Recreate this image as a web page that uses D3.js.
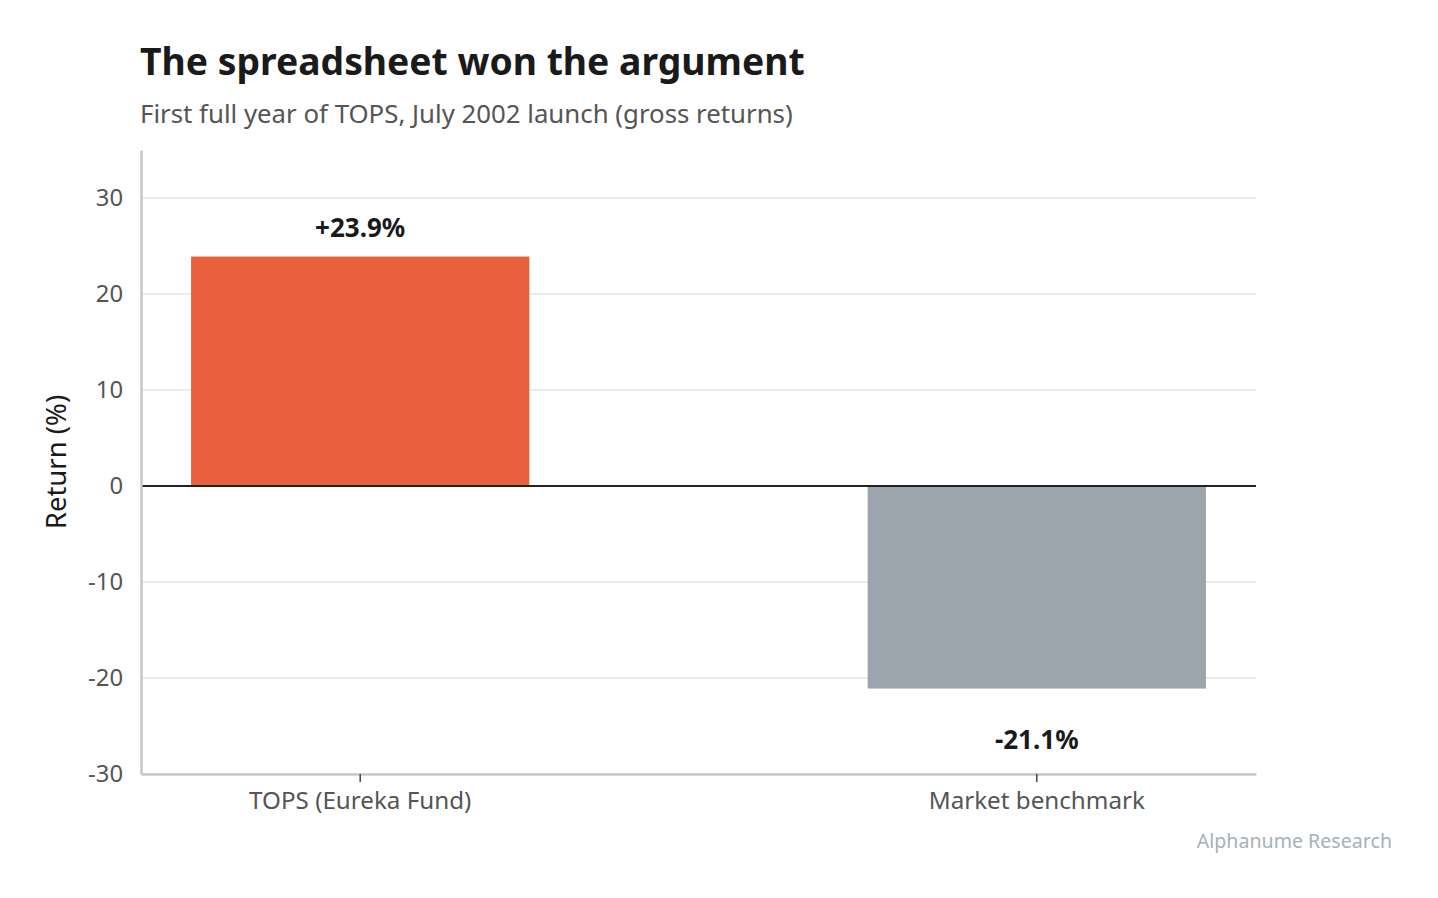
<!DOCTYPE html>
<html>
<head>
<meta charset="utf-8">
<script src="https://cdn.jsdelivr.net/npm/d3@7"></script>
<style>
  body { margin: 0; background: #fff; }
  svg { display: block; font-family: "Noto Sans", sans-serif; }
</style>
</head>
<body>
<div id="chart"></div>
<script>
const categories = ["TOPS (Eureka Fund)", "Market benchmark"];
const returns = [23.9, -21.1];
const valueLabels = ["+23.9%", "-21.1%"];
const yTicks = [-30, -20, -10, 0, 10, 20, 30];
const barColors = ["#e8613c", "#9ca5ad"];

const width = 1438;
const height = 898;
const margin = { top: 150, right: 182, bottom: 124, left: 141 };

const svg = d3
  .select("#chart")
  .append("svg")
  .attr("width", width)
  .attr("height", height);

const x = d3
  .scaleBand()
  .domain(categories)
  .range([margin.left, width - margin.right])
  .paddingInner(0.5)
  .paddingOuter(0.074);

const y = d3
  .scaleLinear()
  .domain([-30, 35])
  .range([height - margin.bottom, margin.top]);

// gridlines
svg
  .append("g")
  .selectAll("line")
  .data(yTicks)
  .join("line")
  .attr("x1", margin.left)
  .attr("x2", width - margin.right)
  .attr("y1", (d) => y(d))
  .attr("y2", (d) => y(d))
  .attr("stroke", "#e3e5e7")
  .attr("stroke-width", 1.5);

// bars
svg
  .append("g")
  .selectAll("rect")
  .data(categories)
  .join("rect")
  .attr("x", (d) => x(d))
  .attr("width", x.bandwidth())
  .attr("y", (d, i) => y(Math.max(0, returns[i])))
  .attr("height", (d, i) => Math.abs(y(returns[i]) - y(0)))
  .attr("fill", (d, i) => barColors[i]);

// zero line
svg
  .append("line")
  .attr("x1", margin.left)
  .attr("x2", width - margin.right)
  .attr("y1", y(0))
  .attr("y2", y(0))
  .attr("stroke", "#222")
  .attr("stroke-width", 2);

// y axis
const yAxis = svg
  .append("g")
  .attr("transform", `translate(${margin.left},0)`)
  .call(
    d3
      .axisLeft(y)
      .tickValues(yTicks)
      .tickFormat((d) => String(d))
      .tickSize(0)
      .tickPadding(18)
  );
yAxis.select(".domain").attr("stroke", "#c3c9cf").attr("stroke-width", 2.5);
yAxis
  .selectAll("text")
  .attr("font-size", 23.8)
  .attr("fill", "#555")
  .attr("font-family", "Noto Sans, sans-serif");

// x axis
const xAxis = svg
  .append("g")
  .attr("transform", `translate(0,${height - margin.bottom})`)
  .call(d3.axisBottom(x).tickSize(8).tickSizeOuter(0).tickPadding(10));
xAxis.select(".domain").attr("stroke", "#c3c9cf").attr("stroke-width", 2.5);
xAxis.selectAll(".tick line").attr("stroke", "#444").attr("stroke-width", 1.5);
xAxis
  .selectAll("text")
  .attr("font-size", 24.2)
  .attr("fill", "#555")
  .attr("font-family", "Noto Sans, sans-serif");

// value labels
svg
  .append("g")
  .selectAll("text")
  .data(categories)
  .join("text")
  .attr("x", (d) => x(d) + x.bandwidth() / 2)
  .attr("y", (d, i) =>
    returns[i] >= 0 ? y(returns[i]) - 20 : y(returns[i]) + 60
  )
  .attr("text-anchor", "middle")
  .attr("font-size", 26)
  .attr("font-weight", "bold")
  .attr("fill", "#1a1a1a")
  .text((d, i) => valueLabels[i]);

// y axis title
svg
  .append("text")
  .attr("transform", `translate(66,${y(2.5)}) rotate(-90)`)
  .attr("text-anchor", "middle")
  .attr("font-size", 27.5)
  .attr("fill", "#1a1a1a")
  .text("Return (%)");

// title and subtitle
svg
  .append("text")
  .attr("x", 140)
  .attr("y", 75)
  .attr("font-size", 37.3)
  .attr("font-weight", "bold")
  .attr("fill", "#1a1a1a")
  .text("The spreadsheet won the argument");

svg
  .append("text")
  .attr("x", 140)
  .attr("y", 123)
  .attr("font-size", 25.8)
  .attr("fill", "#555")
  .text("First full year of TOPS, July 2002 launch (gross returns)");

// source
svg
  .append("text")
  .attr("x", 1392)
  .attr("y", 848)
  .attr("text-anchor", "end")
  .attr("font-size", 19.6)
  .attr("fill", "#a8b0b7")
  .text("Alphanume Research");
</script>
</body>
</html>
